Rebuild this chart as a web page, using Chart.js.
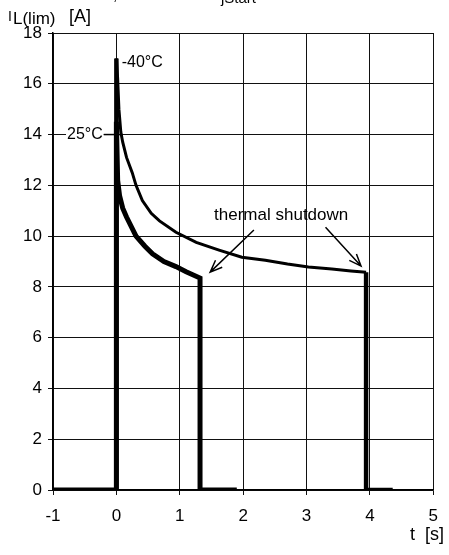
<!DOCTYPE html>
<html>
<head>
	<meta charset="UTF-8">
	<script src="https://cdn.jsdelivr.net/npm/chart.js@4.4.1/dist/chart.umd.min.js"></script>
	<style>
		body { margin: 0; background: #fff; }
		#wrap { width: 449px; height: 555px; }
	</style>
	<title>Current limit vs time</title>
</head>
<body>
	<div id="wrap"><canvas id="chart" width="449" height="555"></canvas></div>
	<script>
	// -40°C curve (thin, later shutdown)
	let tCold = [0, 0, 0.02, 0.04, 0.07, 0.1, 0.16, 0.25, 0.31, 0.41, 0.55, 0.68, 0.94, 1.26, 1.62, 1.98, 2.35, 2.7, 3.03, 3.4, 3.7, 3.94, 3.94, 4.36];
	let iCold = [0, 17, 16.2, 15, 14.1, 13.7, 13.1, 12.5, 12.0, 11.4, 10.9, 10.6, 10.15, 9.75, 9.45, 9.17, 9.05, 8.9, 8.78, 8.7, 8.63, 8.58, 0, 0];
	// 25°C curve (thick, early shutdown)
	let tRoom = [-1, 0, 0, 0.02, 0.05, 0.1, 0.16, 0.31, 0.45, 0.57, 0.75, 0.94, 1.1, 1.32, 1.32, 1.9];
	let iRoom = [0, 0, 14.5, 12.2, 11.6, 11.1, 10.75, 10.0, 9.6, 9.3, 9.0, 8.8, 8.6, 8.35, 0, 0];
	let xTicks = [-1, 0, 1, 2, 3, 4, 5];
	let yTicks = [0, 2, 4, 6, 8, 10, 12, 14, 16, 18];

	const FONT = "'Liberation Sans', Arial, Helvetica, sans-serif";
	Chart.defaults.font.family = FONT;
	Chart.defaults.color = '#000';

	let toPoints = (xs, ys) => xs.map((x, i) => ({x: x, y: ys[i]}));

	// arrow helper in data coords
	function arrow(ctx, xs, ys, x0, y0, x1, y1){
		let a = xs.getPixelForValue(x0), b = ys.getPixelForValue(y0);
		let c = xs.getPixelForValue(x1), d = ys.getPixelForValue(y1);
		ctx.beginPath();
		ctx.moveTo(a, b);
		ctx.lineTo(c, d);
		let ang = Math.atan2(d - b, c - a);
		let len = 13, spread = 0.38;
		ctx.moveTo(c - len * Math.cos(ang - spread), d - len * Math.sin(ang - spread));
		ctx.lineTo(c, d);
		ctx.lineTo(c - len * Math.cos(ang + spread), d - len * Math.sin(ang + spread));
		ctx.stroke();
	}

	const notes = {
		id: 'notes',
		afterDatasetsDraw(chart){
			let ctx = chart.ctx;
			let xs = chart.scales.x, ys = chart.scales.y;
			ctx.save();
			ctx.fillStyle = '#000';
			ctx.strokeStyle = '#000';
			ctx.textBaseline = 'alphabetic';

			// axis titles
			ctx.font = '14px ' + FONT;
			ctx.fillText('I', 8, 21);
			ctx.font = '17px ' + FONT;
			ctx.fillText('L(lim)', 13, 24);
			ctx.font = '18px ' + FONT;
			ctx.fillText('[A]', 69, 22);
			ctx.fillText('t  [s]', 410, 540);
			// clipped remains of a line above the chart
			ctx.font = '15px ' + FONT;
			ctx.fillText(',', 113, 0);
			ctx.fillText('jStart', 221, 3);

			// temperature labels
			ctx.font = '16px ' + FONT;
			let x = xs.getPixelForValue(0.1), y = ys.getPixelForValue(16.85);
			ctx.textBaseline = 'middle';
			ctx.fillText('-40°C', x - 1, y);
			let lx = 67, ly = ys.getPixelForValue(14);
			let w = ctx.measureText('25°C').width;
			ctx.fillStyle = '#fff';
			ctx.fillRect(lx - 1, ly - 8, w + 2, 16);
			ctx.fillStyle = '#000';
			ctx.fillText('25°C', lx, ly);
			ctx.lineWidth = 1.5;
			ctx.beginPath();
			ctx.moveTo(lx + w + 1, ly);
			ctx.lineTo(xs.getPixelForValue(0.1), ly);
			ctx.stroke();

			// thermal shutdown
			ctx.font = '17px ' + FONT;
			ctx.textAlign = 'center';
			ctx.textBaseline = 'alphabetic';
			ctx.fillText('thermal shutdown', xs.getPixelForValue(2.6), ys.getPixelForValue(10.65));
			ctx.lineWidth = 1.5;
			arrow(ctx, xs, ys, 2.17, 10.24, 1.48, 8.58);
			arrow(ctx, xs, ys, 3.30, 10.35, 3.86, 8.82);
			ctx.restore();
		}
	};

	let chart = new Chart(document.getElementById('chart'), {
		type: 'line',
		data: {
			datasets: [{
				label: '-40°C',
				data: toPoints(tCold, iCold),
				borderColor: '#000',
				borderWidth: 3,
				pointRadius: 0,
				tension: 0,
				segment: {
					borderWidth: c => (c.p0.parsed.x >= 3.9 || c.p0.parsed.y === 0) ? 4.5 : undefined
				}
			}, {
				label: '25°C',
				data: toPoints(tRoom, iRoom),
				borderColor: '#000',
				borderWidth: 5,
				pointRadius: 0,
				tension: 0
			}]
		},
		options: {
			responsive: false,
			animation: false,
			layout: { padding: { top: 33, right: 14, left: 0, bottom: 0 } },
			plugins: { legend: { display: false }, tooltip: { enabled: false } },
			scales: {
				x: {
					type: 'linear',
					min: -1, max: 5,
					afterBuildTicks: s => { s.ticks = xTicks.map(v => ({value: v})); },
					afterFit: s => { s.height = 65; },
					grid: { color: '#111', lineWidth: 1, tickLength: 5 },
					border: { color: '#000', width: 1.5 },
					ticks: { padding: 11, font: { size: 17 }, color: '#000' }
				},
				y: {
					min: 0, max: 18,
					afterBuildTicks: s => { s.ticks = yTicks.map(v => ({value: v})); },
					afterFit: s => { s.width = 53; },
					grid: { color: '#111', lineWidth: 1, tickLength: 5 },
					border: { color: '#000', width: 1.5 },
					ticks: { padding: 6, font: { size: 17 }, color: '#000' }
				}
			}
		},
		plugins: [notes]
	});
	</script>
</body>
</html>
